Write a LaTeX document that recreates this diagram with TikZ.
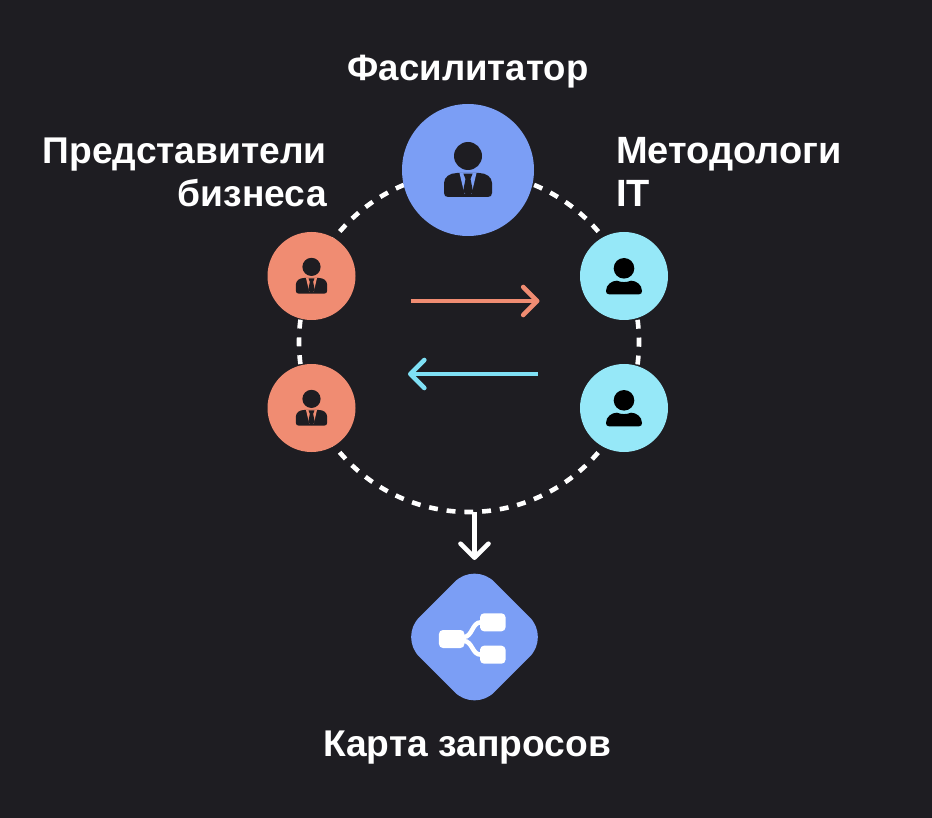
\documentclass[tikz,border=0pt]{standalone}
\usepackage{fontspec}
\setmainfont{Liberation Sans}
\usetikzlibrary{arrows.meta}
\definecolor{bgc}{HTML}{1E1D22}
\definecolor{bluec}{HTML}{7B9EF5}
\definecolor{salmonc}{HTML}{F08C72}
\definecolor{cyanc}{HTML}{96E8F8}
\definecolor{cyanarrow}{HTML}{7FE0F5}
\tikzset{
  x=1pt,y=-1pt,
  person/.style={circle,minimum size=#1*2pt,inner sep=0pt,outer sep=0pt,draw=none},
  ringstyle/.style={circle,draw=white,line width=4.6pt,minimum size=340pt,inner sep=0pt,outer sep=0pt,
     dash pattern=on 8.9pt off 8.9pt,dash phase=4.45pt},
  label/.style={text=white,font=\bfseries\fontsize{#1}{43}\selectfont,inner sep=0pt},
  flow/.style={line width=4.6pt,-{Straight Barb[length=14pt,width=28pt,line width=4.6pt,round]}},
  pics/suit/.style={code={
    \fill[bgc] (0,-14) circle (14);
    \fill[bgc] (-20,27) .. controls (-22.5,27) and (-24,25.5) .. (-24,23) -- (-24,13)
       .. controls (-24,7) and (-18,3) .. (-11,3)
       -- (11,3) .. controls (18,3) and (24,7) .. (24,13) -- (24,23)
       .. controls (24,25.5) and (22.5,27) .. (20,27) -- cycle;
    \fill[#1] (-8.5,3) -- (-3.6,23.7) -- (3.6,23.7) -- (8.5,3) -- cycle;
    \fill[bgc] (-4.6,3.7) -- (4.6,3.7) -- (2.5,9) -- (5,21.5) -- (0,26.5) -- (-5,21.5) -- (-2.5,9) -- cycle;
  }},
  pics/plain/.style={code={
    \fill[black] (0,-7.7) circle (10.3);
    \fill[black] (-15,18.3) .. controls (-17,18.3) and (-18,17) .. (-18,15)
       .. controls (-18,8.5) and (-12,4.7) .. (-7,4.7)
       .. controls (-3,6.5) and (3,6.5) .. (7,4.7)
       .. controls (12,4.7) and (18,8.5) .. (18,15)
       .. controls (18,17) and (17,18.3) .. (15,18.3) -- cycle;
  }}
}
\begin{document}
\begin{tikzpicture}
\fill[bgc] (0,0) rectangle (932,818);
\useasboundingbox (0,0) rectangle (932,818);
\node[ringstyle] (ring) at (469,342) {};
\node[person=66,fill=bluec] (fac) at (468,170) {};
\pic at (fac.center) {suit=bluec};
\node[person=44,fill=salmonc] (biz1) at (311.5,276) {};
\node[person=44,fill=salmonc] (biz2) at (311.5,408) {};
\pic[scale=0.65] at (biz1.center) {suit=salmonc};
\pic[scale=0.65] at (biz2.center) {suit=salmonc};
\node[person=44,fill=cyanc] (it1) at (624,276) {};
\node[person=44,fill=cyanc] (it2) at (624,408) {};
\pic at (it1.center) {plain};
\pic at (it2.center) {plain};
\coordinate (a1s) at (410.5,301);
\coordinate (a1e) at (539.5,301);
\coordinate (a2s) at (537.5,374);
\coordinate (a2e) at (408,374);
\draw[flow,salmonc] (a1s) -- (a1e);
\draw[flow,cyanarrow] (a2s) -- (a2e);
\node[rectangle,rotate=45,fill=bluec,minimum size=106pt,rounded corners=28pt,inner sep=0pt,outer sep=0pt] (mapd) at (474.5,637) {};
\draw[flow,white,shorten >=77pt] (ring.south -| mapd.center) -- (mapd.center);
\node[fill=white,rounded corners=4pt,minimum width=25.5pt,minimum height=18pt,inner sep=0pt] (b0) at (451.7,639) {};
\node[fill=white,rounded corners=4pt,minimum width=25.5pt,minimum height=18pt,inner sep=0pt] (b1) at (492.8,622.3) {};
\node[fill=white,rounded corners=4pt,minimum width=25.5pt,minimum height=18pt,inner sep=0pt] (b2) at (492.8,654.7) {};
\draw[white,line width=4.5pt] ([yshift=2pt,xshift=-1pt]b0.east) .. controls +(9,0) and +(-9,0) .. ([xshift=1pt]b1.west);
\draw[white,line width=4.5pt] ([yshift=-2pt,xshift=-1pt]b0.east) .. controls +(9,0) and +(-9,0) .. ([xshift=1pt]b2.west);
\node[label=36.6] (tfac) at (468,72) {Фасилитатор};
\node[label=37.2,align=right,anchor=east] (tbiz) at (327,172) {Представители\\бизнеса};
\node[label=38,align=left,anchor=west] (tit) at (616,171.5) {Методологи\\IT};
\node[label=37.2] (tmap) at (467,748) {Карта запросов};
\end{tikzpicture}
\end{document}
